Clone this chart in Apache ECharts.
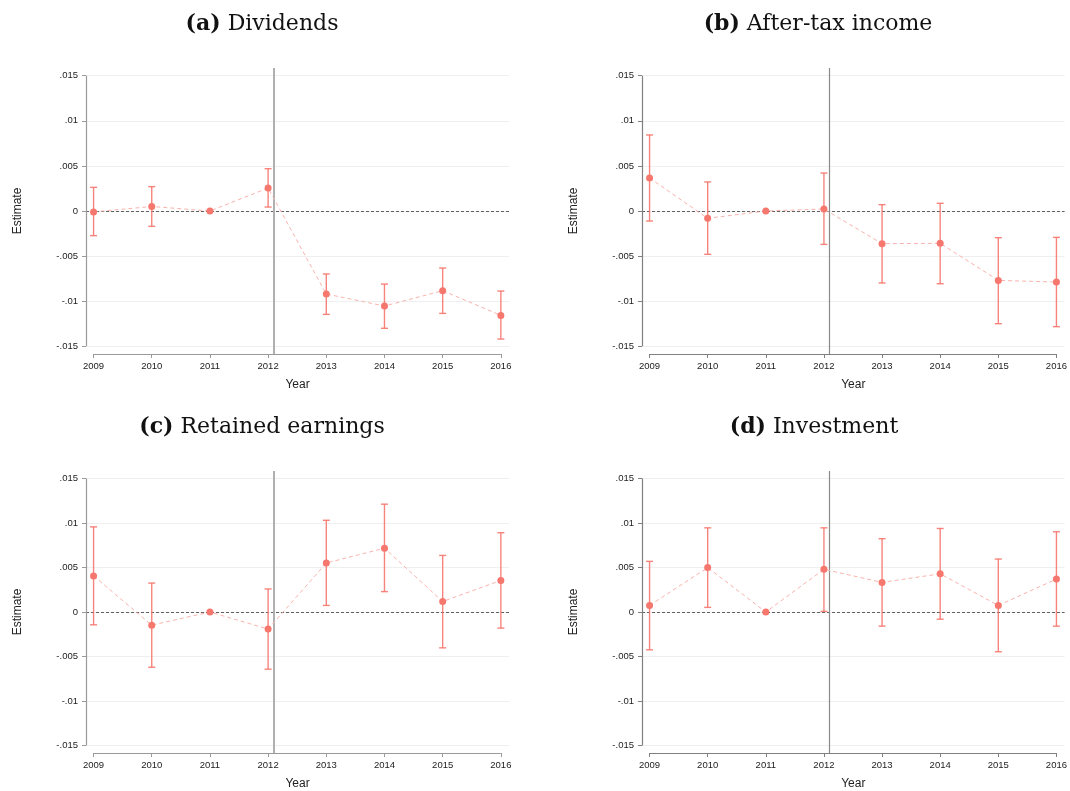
<!DOCTYPE html>
<html>
<head>
<meta charset="utf-8">
<title>Event-study estimates</title>
<script src="https://cdn.jsdelivr.net/npm/echarts@6/dist/echarts.min.js"></script>
<style>
  html, body { margin: 0; padding: 0; background: #fff; }
  #chart { width: 1070px; height: 791px; }
</style>
</head>
<body>
<div id="chart"></div>
<script>
// years on the x axis
const years = [2009, 2010, 2011, 2012, 2013, 2014, 2015, 2016];
// where the vertical reference line sits
const breakYear = 2012.1;
// y tick labels
const yTicks = [-0.015, -0.01, -0.005, 0, 0.005, 0.01, 0.015];

// (a) Dividends
const dividendsEst = [-0.0001, 0.0005, 0, 0.00255, -0.0092, -0.01053, -0.00883, -0.01157];
const dividendsLo  = [-0.00273, -0.0017, null, 0.00044, -0.01146, -0.0130, -0.01135, -0.01419];
const dividendsHi  = [0.00262, 0.0027, null, 0.00469, -0.00698, -0.0081, -0.00632, -0.00887];

// (b) After-tax income
const incomeEst = [0.00366, -0.00081, 0, 0.00022, -0.00362, -0.00358, -0.00769, -0.00787];
const incomeLo  = [-0.00111, -0.0048, null, -0.0037, -0.00798, -0.00806, -0.01249, -0.01282];
const incomeHi  = [0.00843, 0.00322, null, 0.00421, 0.0007, 0.00085, -0.00296, -0.00292];

// (c) Retained earnings
const retainedEst = [0.00406, -0.00148, 0, -0.00192, 0.00551, 0.00717, 0.00118, 0.00355];
const retainedLo  = [-0.00144, -0.00621, null, -0.00643, 0.00074, 0.00229, -0.00403, -0.00181];
const retainedHi  = [0.00957, 0.00325, null, 0.00259, 0.01031, 0.01212, 0.00636, 0.00891];

// (d) Investment
const investEst = [0.00074, 0.00499, 0, 0.0048, 0.00333, 0.00429, 0.00074, 0.0037];
const investLo  = [-0.00425, 0.00052, null, 0.00007, -0.00159, -0.00081, -0.00447, -0.00159];
const investHi  = [0.00569, 0.00946, null, 0.00946, 0.00824, 0.00939, 0.00595, 0.00902];

const panels = [
  { tag: '(a)', name: 'Dividends',         est: dividendsEst, lo: dividendsLo, hi: dividendsHi },
  { tag: '(b)', name: 'After-tax income',  est: incomeEst,    lo: incomeLo,    hi: incomeHi },
  { tag: '(c)', name: 'Retained earnings', est: retainedEst,  lo: retainedLo,  hi: retainedHi },
  { tag: '(d)', name: 'Investment',        est: investEst,    lo: investLo,    hi: investHi }
];

const xMin = 2008.87, xMax = 2016.14;
const yMin = -0.01585, yMax = 0.01585;
const red = '#f6776e';
const sans = 'Liberation Sans, Arial, sans-serif';

const gridPos = [
  { left: 86,    top: 68,  width: 423, height: 286 },
  { left: 642,   top: 68,  width: 423, height: 286 },
  { left: 86,    top: 471, width: 423, height: 286 },
  { left: 642,   top: 471, width: 423, height: 286 }
];
const titlePos = [
  { left: 257, top: 8 },
  { left: 813, top: 8 },
  { left: 257, top: 411 },
  { left: 809, top: 411 }
];

function fmtY(v) {
  return String(+v.toFixed(4)).replace('0.', '.');
}

const option = {
  animation: false,
  backgroundColor: '#fff',
  title: [],
  grid: [],
  xAxis: [],
  yAxis: [],
  series: []
};

panels.forEach(function (p, i) {
  const left = i % 2 === 0;
  const axisColor = left ? '#9a9a9a' : '#808080';

  option.title.push({
    text: '{b|' + p.tag + '} ' + p.name,
    left: titlePos[i].left,
    top: titlePos[i].top,
    textAlign: 'center',
    textStyle: {
      fontFamily: 'DejaVu Serif, serif',
      fontSize: 22,
      fontWeight: 'normal',
      color: '#111',
      rich: {
        b: { fontFamily: 'DejaVu Serif, serif', fontSize: 22, fontWeight: 'bold', color: '#111' }
      }
    }
  });

  option.grid.push(gridPos[i]);

  option.xAxis.push({
    type: 'value',
    gridIndex: i,
    min: xMin,
    max: xMax,
    name: 'Year',
    nameLocation: 'middle',
    nameGap: 25,
    nameTextStyle: { fontFamily: sans, fontSize: 12, color: '#222' },
    axisLine: { show: false, onZero: false },
    axisTick: { show: true, length: 4, customValues: years, lineStyle: { color: axisColor } },
    axisLabel: {
      customValues: years, margin: 7, fontFamily: sans, fontSize: 9.5, color: '#222',
      formatter: function (v) { return String(v); }
    },
    splitLine: { show: false }
  });

  option.yAxis.push({
    type: 'value',
    gridIndex: i,
    min: yMin,
    max: yMax,
    name: 'Estimate',
    nameLocation: 'middle',
    nameRotate: 90,
    nameGap: 62,
    nameTextStyle: { fontFamily: sans, fontSize: 12, color: '#222' },
    axisLine: { show: false, onZero: false },
    axisTick: { show: true, length: 4, customValues: yTicks, lineStyle: { color: axisColor } },
    axisLabel: { customValues: yTicks, margin: 8, fontFamily: sans, fontSize: 9.5, color: '#222', formatter: fmtY },
    splitLine: { show: true, lineStyle: { color: '#efefef', width: 1 } }
  });

  const bars = [];
  years.forEach(function (y, k) {
    if (p.lo[k] !== null) bars.push([y, p.lo[k], p.hi[k]]);
  });

  option.series.push({
    type: 'custom',
    xAxisIndex: i,
    yAxisIndex: i,
    z: 3,
    silent: true,
    data: bars,
    encode: { x: 0, y: [1, 2] },
    renderItem: function (params, api) {
      const x = api.value(0);
      const top = api.coord([x, api.value(2)]);
      const bot = api.coord([x, api.value(1)]);
      const w = 3.5;
      const st = { stroke: red, lineWidth: 1.4, opacity: 0.9 };
      return {
        type: 'group',
        children: [
          { type: 'line', shape: { x1: top[0], y1: top[1], x2: bot[0], y2: bot[1] }, style: st },
          { type: 'line', shape: { x1: top[0] - w, y1: top[1], x2: top[0] + w, y2: top[1] }, style: st },
          { type: 'line', shape: { x1: bot[0] - w, y1: bot[1], x2: bot[0] + w, y2: bot[1] }, style: st }
        ]
      };
    }
  });

  option.series.push({
    type: 'line',
    xAxisIndex: i,
    yAxisIndex: i,
    z: 4,
    silent: true,
    data: years.map(function (y, k) { return [y, p.est[k]]; }),
    symbol: 'circle',
    symbolSize: 7,
    showSymbol: true,
    itemStyle: { color: red },
    lineStyle: { color: '#f9b4ae', width: 1, type: [4, 3] },
    markLine: {
      silent: true,
      symbol: 'none',
      label: { show: false },
      z: 2,
      data: [
        { yAxis: 0, lineStyle: { color: '#606060', width: 1, type: [3, 2] } },
        { xAxis: breakYear, lineStyle: { color: left ? '#b0b0b0' : '#8a8a8a', width: left ? 2 : 1.2, type: 'solid' } },
        [
          { coord: [xMin, yTicks[0]], lineStyle: { color: axisColor, width: 1.2, type: 'solid' } },
          { coord: [xMin, yTicks[yTicks.length - 1]] }
        ],
        [
          { coord: [years[0], yMin], lineStyle: { color: axisColor, width: 1.2, type: 'solid' } },
          { coord: [years[years.length - 1], yMin] }
        ]
      ]
    }
  });
});

const chart = echarts.init(document.getElementById('chart'));
chart.setOption(option);
</script>
</body>
</html>
